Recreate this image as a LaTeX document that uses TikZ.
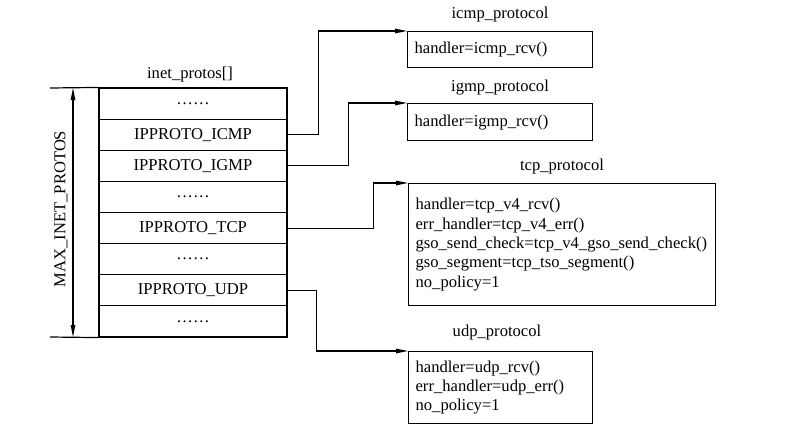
\documentclass[tikz,border=0pt]{standalone}
\usepackage{fontspec}
\setmainfont{Liberation Serif}
\usetikzlibrary{arrows.meta}
\begin{document}
\begin{tikzpicture}[x=1pt,y=-1pt,
  every node/.style={font=\fontsize{16.6}{19.4}\selectfont},
  cell/.style={draw, line width=1.2pt, minimum width=188pt, minimum height=31.125pt, inner sep=0pt},
  pbox/.style={draw, line width=1.2pt, align=left, inner xsep=7pt, inner ysep=0pt, anchor=north west},
  conn/.style={line width=1.1pt, -{Triangle[length=12pt,width=4.5pt]}},
  dim/.style={line width=1.1pt, {Triangle[length=12pt,width=4.5pt]}-{Triangle[length=12pt,width=4.5pt]}}]
\useasboundingbox (0,0) rectangle (799,439);
% table
\node[cell] (r1) at (193,103.6) {……};
\node[cell] (r2) at (193,134.7) {IPPROTO\_ICMP};
\node[cell] (r3) at (193,165.8) {IPPROTO\_IGMP};
\node[cell] (r4) at (193,197.0) {……};
\node[cell] (r5) at (193,228.1) {IPPROTO\_TCP};
\node[cell] (r6) at (193,259.2) {……};
\node[cell] (r7) at (193,290.3) {IPPROTO\_UDP};
\node[cell] (r8) at (193,321.4) {……};
\node (title) at (190,75) {inet\_protos[]};
% dimension
\coordinate (dt) at (50,88);
\coordinate (db) at (50,337);
\draw[line width=1.2pt] (dt) -- (r1.north west);
\draw[line width=1.2pt] (db) -- (r8.south west);
\coordinate (at) at (73,88);
\coordinate (ab) at (73,337);
\draw[dim] (at) -- (ab);
\node[rotate=90] (maxl) at (61,209) {MAX\_INET\_PROTOS};
% protocol boxes
\node[pbox, text width=171pt, minimum height=36pt] (icmp) at (407,31) {handler=icmp\_rcv()};
\node (icmpt) at (500,15) {icmp\_protocol};
\node[pbox, text width=171pt, minimum height=37pt] (igmp) at (407,103) {handler=igmp\_rcv()};
\node (igmpt) at (500,88) {igmp\_protocol};
\node[pbox, text width=293pt, minimum height=122pt] (tcp) at (408,183) {handler=tcp\_v4\_rcv()\\err\_handler=tcp\_v4\_err()\\gso\_send\_check=tcp\_v4\_gso\_send\_check()\\gso\_segment=tcp\_tso\_segment()\\no\_policy=1};
\node (tcpt) at (562,167) {tcp\_protocol};
\node[pbox, text width=170pt, minimum height=72pt] (udp) at (408,351) {handler=udp\_rcv()\\err\_handler=udp\_err()\\no\_policy=1};
\node (udpt) at (497,333) {udp\_protocol};
% connectors
\draw[conn] (r2.east) -- ++(31,0) |- (icmp.north west);
\draw[conn] (r3.east) -- ++(61,0) |- (igmp.north west);
\draw[conn] (r5.east) -- ++(86,0) |- (tcp.north west);
\draw[conn] (r7.east) -- ++(29,0) |- (udp.north west);
\end{tikzpicture}
\end{document}
